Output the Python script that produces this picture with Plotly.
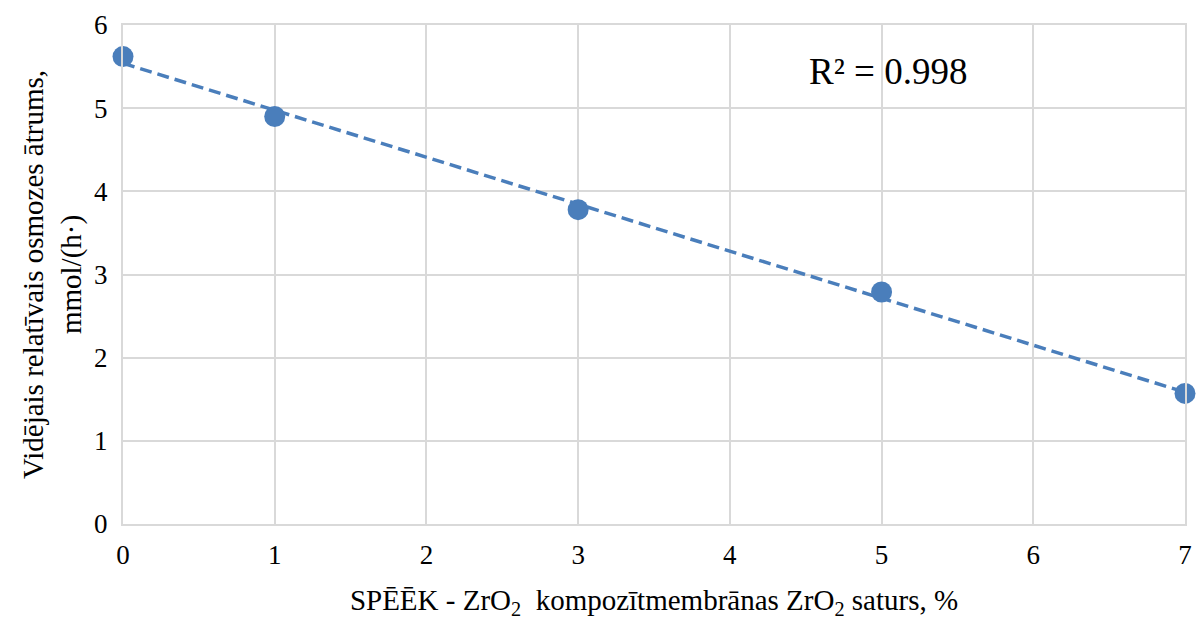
import numpy as np
import plotly.graph_objects as go

x_vals = [0, 1, 3, 5, 7]
y_vals = [5.62, 4.90, 3.78, 2.79, 1.57]
x_ticks = [0, 1, 2, 3, 4, 5, 6, 7]
y_ticks = [0, 1, 2, 3, 4, 5, 6]
r2_label = "R² = 0.998"
x_title = "SPĒĒK - ZrO<sub>2</sub>  kompozītmembrānas ZrO<sub>2</sub> saturs, %"
y_title = "Vidējais relatīvais osmozes ātrums,<br>mmol/(h·)"

slope, intercept = np.polyfit(x_vals, y_vals, 1)
trend_x = [min(x_vals), max(x_vals)]
trend_y = [intercept + slope * v for v in trend_x]

color = "#4a7ebb"
font = "Liberation Serif"

fig = go.Figure()
fig.add_trace(go.Scatter(x=trend_x, y=trend_y, mode="lines",
                         line=dict(color=color, width=3.5, dash="12px,6px"),
                         hoverinfo="skip", showlegend=False, cliponaxis=False))
fig.add_trace(go.Scatter(x=x_vals, y=y_vals, mode="markers",
                         marker=dict(color=color, size=21),
                         showlegend=False, cliponaxis=False))

fig.add_annotation(x=0.72, y=0.906, xref="paper", yref="paper", text=r2_label,
                   xanchor="center", yanchor="middle",
                   showarrow=False, font=dict(family=font, size=37, color="black"))

fig.update_layout(
    width=1199, height=620,
    margin=dict(l=123, r=14, t=25, b=96),
    plot_bgcolor="white", paper_bgcolor="white",
    font=dict(family=font, size=27, color="black"),
)
fig.update_xaxes(range=[0, 7], tickvals=x_ticks, showgrid=True, gridcolor="#d9d9d9",
                 gridwidth=2, showline=True, linecolor="#d9d9d9", linewidth=2, mirror=True,
                 zeroline=False, ticks="outside", ticklen=6, tickcolor="rgba(0,0,0,0)",
                 automargin=False,
                 title=dict(text=x_title, standoff=20, font=dict(family=font, size=29)),
                 tickfont=dict(family=font, size=27))
fig.update_yaxes(range=[0, 6], tickvals=y_ticks, showgrid=True, gridcolor="#d9d9d9",
                 gridwidth=2, showline=True, linecolor="#d9d9d9", linewidth=2, mirror=True,
                 zeroline=False, ticks="outside", ticklen=8, tickcolor="rgba(0,0,0,0)",
                 automargin=False,
                 title=dict(text=y_title, standoff=4, font=dict(family=font, size=29)),
                 tickfont=dict(family=font, size=27))

fig.write_html("out.html")
